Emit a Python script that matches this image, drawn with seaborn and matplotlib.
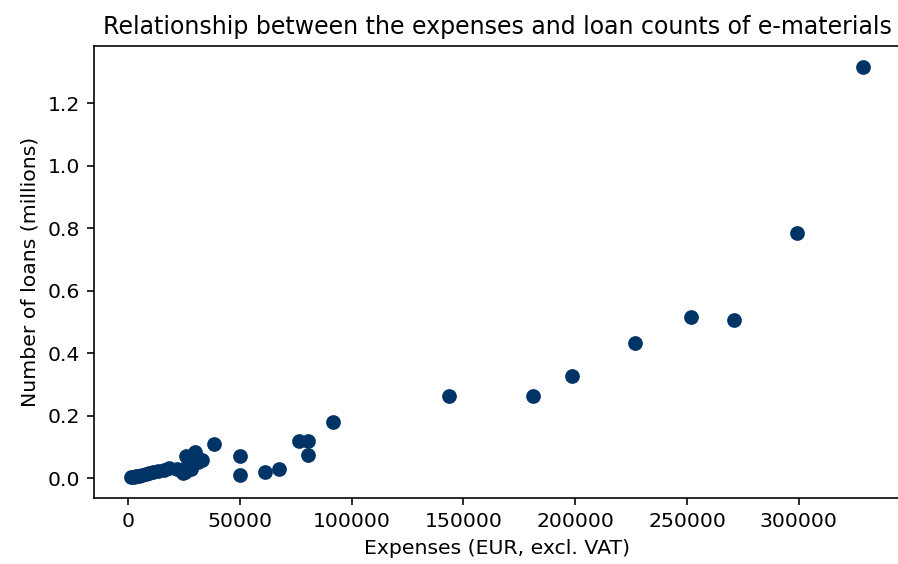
import matplotlib
matplotlib.use("Agg")
import matplotlib.pyplot as plt
import seaborn as sns
import pandas as pd

# Yearly e-material acquisition expenses (EUR, excl. VAT) per library
expenses = [
    1200, 2500, 3500, 5000, 6500, 8000, 9500, 11000, 13500, 16000,
    18500, 22000, 24500, 25500, 26000, 27000, 28000, 30000, 31500, 33000,
    38500, 50000, 50000, 61500, 67500, 76500, 80500, 80500, 91500, 143800,
    181300, 198700, 226600, 251600, 271100, 299000, 328900,
]
# Corresponding e-material loans (millions)
loans = [
    0.005, 0.002, 0.008, 0.006, 0.010, 0.012, 0.015, 0.018, 0.022, 0.026,
    0.032, 0.030, 0.015, 0.020, 0.070, 0.045, 0.030, 0.085, 0.050, 0.058,
    0.109, 0.070, 0.010, 0.020, 0.030, 0.120, 0.120, 0.074, 0.178, 0.262,
    0.262, 0.327, 0.431, 0.516, 0.506, 0.783, 1.317,
]

df = pd.DataFrame({"expenses": expenses, "loans": loans})

fig = plt.figure(figsize=(898 / 147, 564 / 147), dpi=147)
ax = fig.add_axes([94 / 898, 1 - 498 / 564, 806 / 898, 452 / 564])

sns.scatterplot(data=df, x="expenses", y="loans", ax=ax,
                color="#003366", s=52, linewidth=0, alpha=1)

ax.set_title("Relationship between the expenses and loan counts of e-materials",
             fontsize=11.6)
ax.set_xlabel("Expenses (EUR, excl. VAT)")
ax.set_ylabel("Number of loans (millions)")

fig.savefig("out.png", dpi=147)
